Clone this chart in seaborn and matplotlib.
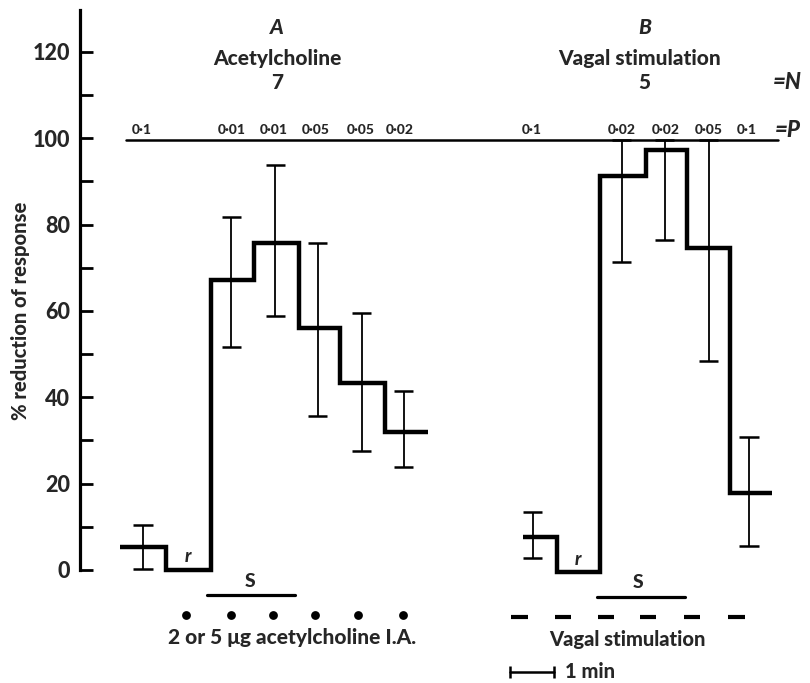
import matplotlib
matplotlib.use("Agg")
import matplotlib.pyplot as plt
import seaborn as sns
import numpy as np

# ---- data (time in minutes, % reduction of response) ----
a_bounds = [0.0, 1.06, 2.09, 3.07, 4.11, 5.05, 6.08, 7.06]
a_values = [5.4, 0.0, 67.2, 75.7, 56.1, 43.2, 32.0]
a_err_x = [0.53, 2.55, 3.56, 4.54, 5.55, 6.51]
a_err_lo = [0.2, 51.7, 58.9, 35.7, 27.6, 23.9]
a_err_hi = [10.5, 81.7, 93.7, 75.7, 59.6, 41.5]
a_p_x = [0.50, 2.57, 3.53, 4.50, 5.53, 6.42]
a_p_labels = ["0·1", "0·01", "0·01", "0·05", "0·05", "0·02"]
a_dots_x = [1.51, 2.55, 3.51, 4.47, 5.46, 6.49]

b_bounds = [9.24, 10.02, 11.01, 12.06, 13.0, 13.99, 14.95]
b_values = [7.7, -0.5, 91.3, 97.3, 74.5, 17.9]
b_err_x = [9.47, 11.51, 12.5, 13.51, 14.43]
b_err_lo = [2.7, 71.4, 76.4, 48.5, 5.6]
b_err_hi = [13.3, 99.5, 99.5, 99.5, 30.7]
b_p_x = [9.45, 11.51, 12.52, 13.51, 14.38]
b_p_labels = ["0·1", "0·02", "0·02", "0·05", "0·1"]
b_dash_x = [9.17, 10.16, 11.15, 12.11, 13.12, 14.15]

y_major = [0, 20, 40, 60, 80, 100, 120]
y_minor = [10, 30, 50, 70, 90, 110]

sns.set_style("white")
plt.rcParams["font.family"] = ["Lato", "DejaVu Sans"]
W = 900
plt.rcParams["font.weight"] = W

fig = plt.figure(figsize=(8.1, 6.83), dpi=100)
ax = fig.add_axes([80 / 810, 0.0, 730 / 810, 673 / 683])
ax.set_xlim(-0.917, 15.83)
ax.set_ylim(-26.2, 129.7)

for s in ["top", "right", "bottom"]:
    ax.spines[s].set_visible(False)
ax.spines["left"].set_bounds(0, 129.7)
ax.spines["left"].set_linewidth(2.3)
ax.spines["left"].set_color("black")
ax.set_xticks([])
ax.set_yticks(y_major)
ax.set_yticks(y_minor, minor=True)
ax.tick_params(axis="y", which="both", left=True, direction="in", length=9.5,
               width=2.0, color="black", pad=7, labelsize=15.5)
for lab in ax.get_yticklabels():
    lab.set_fontweight(W)
ax.set_ylabel("% reduction of response", fontsize=14.5, fontweight=W)
ax.yaxis.set_label_coords(-50 / 730, (683 - 311) / 673)

step_kw = dict(color="black", lw=3.2, drawstyle="steps-post", estimator=None,
               solid_capstyle="butt", solid_joinstyle="miter")
sns.lineplot(x=a_bounds, y=a_values + [a_values[-1]], ax=ax, **step_kw)
sns.lineplot(x=b_bounds, y=b_values + [b_values[-1]], ax=ax, **step_kw)

cap = 0.22
for xs, lo, hi in [(a_err_x, a_err_lo, a_err_hi), (b_err_x, b_err_lo, b_err_hi)]:
    xs = np.array(xs)
    ax.vlines(xs, lo, hi, color="black", lw=1.3)
    ax.hlines(lo, xs - cap, xs + cap, color="black", lw=1.8)
    ax.hlines(hi, xs - cap, xs + cap, color="black", lw=1.8)

# P line and labels
ax.plot([0.14, 15.09], [99.5, 99.5], color="black", lw=1.8)
for xs, labs in [(a_p_x, a_p_labels), (b_p_x, b_p_labels)]:
    for x, l in zip(xs, labs):
        ax.text(x, 101.9, l, ha="center", va="center", fontsize=10, fontweight=W)
ax.text(15.32, 101.8, "=P", ha="center", va="center", fontsize=16, fontweight=W,
        style="italic", clip_on=False)
ax.text(15.32, 112.8, "=N", ha="center", va="center", fontsize=16, fontweight=W,
        style="italic", clip_on=False)

# titles
ax.text(3.60, 125.6, "A", ha="center", va="center", fontsize=15, fontweight=W, style="italic")
ax.text(3.60, 118.4, "Acetylcholine", ha="center", va="center", fontsize=15, fontweight=W)
ax.text(3.60, 112.8, "7", ha="center", va="center", fontsize=15, fontweight=W)
ax.text(12.04, 125.6, "B", ha="center", va="center", fontsize=15, fontweight=W, style="italic")
ax.text(11.93, 118.4, "Vagal stimulation", ha="center", va="center", fontsize=15, fontweight=W)
ax.text(12.02, 112.8, "5", ha="center", va="center", fontsize=15, fontweight=W)

# r and S markers
ax.text(1.56, 3.0, "r", ha="center", va="center", fontsize=13, fontweight=W, style="italic")
ax.text(10.5, 2.5, "r", ha="center", va="center", fontsize=13, fontweight=W, style="italic")
ax.text(2.98, -2.8, "S", ha="center", va="center", fontsize=14, fontweight=W)
ax.text(11.88, -3.0, "S", ha="center", va="center", fontsize=14, fontweight=W)
ax.plot([1.995, 4.01], [-5.8, -5.8], color="black", lw=2.3, clip_on=False)
ax.plot([10.94, 12.96], [-6.25, -6.25], color="black", lw=2.3, clip_on=False)

# stimulus markers
sns.scatterplot(x=a_dots_x, y=[-10.4] * len(a_dots_x), ax=ax, color="black", s=40,
                edgecolor="black", linewidth=0)
bd = np.array(b_dash_x)
ax.hlines([-10.9] * len(bd), bd - 0.19, bd + 0.19, color="black", lw=3.0)

ax.text(3.94, -15.75, "2 or 5 μg acetylcholine I.A.", ha="center", va="center",
        fontsize=15, fontweight=W)
ax.text(11.63, -16.2, "Vagal stimulation", ha="center", va="center", fontsize=14.5,
        fontweight=W)

# 1 min scale bar
ax.plot([8.94, 9.95], [-23.6, -23.6], color="black", lw=1.8)
ax.vlines([8.94, 9.95], -25.0, -22.2, color="black", lw=1.8)
ax.text(10.21, -23.6, "1 min", ha="left", va="center", fontsize=14.5, fontweight=W)

fig.savefig("out.png", dpi=100)
